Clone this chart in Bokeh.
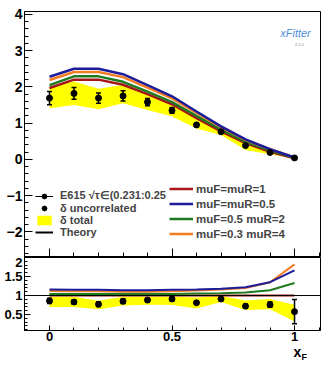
import numpy as np
from bokeh.plotting import figure
from bokeh.models import (Range1d, SingleIntervalTicker, Legend, LegendItem,
                          ColumnDataSource, Span, Label)
from bokeh.layouts import column
from bokeh.embed import file_html
from bokeh.resources import INLINE

# ---------------- data ----------------
xf = [0.0, 0.1, 0.2, 0.3, 0.4, 0.5, 0.6, 0.7, 0.8, 0.9, 1.0]
data = [1.69, 1.82, 1.69, 1.75, 1.58, 1.35, 0.95, 0.76, 0.38, 0.19, 0.04]
err_unc = [0.18, 0.16, 0.14, 0.14, 0.10, 0.08, 0.05, 0.04, 0.03, 0.02, 0.01]
tot_lo = [1.41, 1.50, 1.38, 1.55, 1.36, 1.18, 0.85, 0.67, 0.26, 0.14, 0.02]
tot_hi = [2.00, 2.15, 1.95, 2.05, 1.80, 1.50, 1.12, 0.84, 0.42, 0.20, 0.03]

th_1 = [1.97, 2.20, 2.20, 2.06, 1.80, 1.52, 1.14, 0.77, 0.45, 0.21, 0.03]
th_05 = [2.28, 2.50, 2.50, 2.35, 2.05, 1.74, 1.32, 0.91, 0.55, 0.28, 0.05]
th_05_2 = [2.05, 2.29, 2.29, 2.14, 1.87, 1.58, 1.20, 0.82, 0.49, 0.24, 0.04]
th_03_4 = [2.19, 2.41, 2.41, 2.27, 1.98, 1.68, 1.29, 0.89, 0.54, 0.28, 0.055]

r_data = [0.86, 0.83, 0.77, 0.85, 0.88, 0.91, 0.81, 0.91, 0.72, 0.76, 0.575]
r_err = [0.07, 0.06, 0.06, 0.06, 0.05, 0.05, 0.04, 0.04, 0.05, 0.07, 0.32]
r_lo = [0.70, 0.70, 0.64, 0.74, 0.76, 0.75, 0.66, 0.83, 0.62, 0.64, 0.32]
r_hi = [0.97, 0.97, 0.86, 0.97, 0.97, 0.97, 0.95, 0.99, 0.87, 0.91, 0.76]
r_1 = [1.0, 1.0, 1.0, 1.0, 1.0, 1.0, 1.0, 1.0, 1.0, 1.0, 1.0]
r_05 = [1.16, 1.15, 1.15, 1.14, 1.14, 1.15, 1.16, 1.18, 1.22, 1.35, 1.66]
r_05_2 = [1.04, 1.04, 1.04, 1.04, 1.04, 1.04, 1.05, 1.06, 1.08, 1.14, 1.33]
r_03_4 = [1.12, 1.11, 1.11, 1.10, 1.10, 1.11, 1.13, 1.16, 1.20, 1.35, 1.82]

labels = ["muF=muR=1", "muF=muR=0.5", "muF=0.5 muR=2", "muF=0.3 muR=4"]
colors = ["#a51616", "#1c1c9a", "#1f7a1f", "#f57d21"]
leg_left = ["E615 \u221a\u03c4\u2208(0.231:0.25)", "\u03b4 uncorrelated", "\u03b4 total", "Theory"]

FONT = "Liberation Sans"
YELLOW = "#ffff00"


def style(p):
    p.xgrid.visible = False
    p.ygrid.visible = False
    p.outline_line_color = "black"
    p.outline_line_width = 1
    p.background_fill_color = "white"
    p.border_fill_color = "white"
    for ax in (p.xaxis[0], p.yaxis[0]):
        ax.axis_line_color = "black"
        ax.major_tick_line_color = "black"
        ax.minor_tick_line_color = "black"
        ax.major_tick_out = 0
        ax.minor_tick_out = 0
        ax.major_label_text_font = FONT
        ax.major_label_text_font_style = "bold"
        ax.major_label_text_color = "black"


def errorbars(p, src):
    p.segment(x0="x", y0="lo", x1="x", y1="up", source=src, line_color="black", line_width=1.5)
    p.scatter("x", "up", source=src, marker="dash", size=5, line_color="black", line_width=1.5)
    p.scatter("x", "lo", source=src, marker="dash", size=5, line_color="black", line_width=1.5)
    return p.scatter("x", "y", source=src, size=6, color="black")


# ---------------- top panel ----------------
p1 = figure(frame_width=296, frame_height=245, min_border_left=24, min_border_right=12,
            min_border_top=11, min_border_bottom=1,
            x_range=Range1d(-0.102, 1.106), y_range=Range1d(-2.68, 4.08),
            output_backend="svg", toolbar_location=None)
style(p1)
p1.xaxis.ticker = SingleIntervalTicker(interval=0.5, num_minor_ticks=5)
p1.xaxis.major_label_text_font_size = "0px"
p1.xaxis.major_label_standoff = 0
p1.xaxis.major_tick_in = 8
p1.xaxis.minor_tick_in = 4
p1.yaxis.ticker = SingleIntervalTicker(interval=1, num_minor_ticks=5)
p1.yaxis.major_label_text_font_size = "14px"
p1.yaxis.major_label_standoff = 2
p1.yaxis.major_tick_in = 8
p1.yaxis.minor_tick_in = 4
p1.yaxis.major_label_overrides = {-1: "\u22121", -2: "\u22122"}

band = p1.varea(x=xf, y1=tot_lo, y2=tot_hi, fill_color=YELLOW, fill_alpha=1)
lines = []
for ys, c in zip([th_1, th_05_2, th_03_4, th_05], [colors[0], colors[2], colors[3], colors[1]]):
    lines.append(p1.line(xf, ys, line_color=c, line_width=2.5))
r_red, r_green, r_orange, r_blue = lines

src1 = ColumnDataSource(dict(x=xf, y=data,
                             up=list(np.array(data) + np.array(err_unc)),
                             lo=list(np.array(data) - np.array(err_unc))))
pts = errorbars(p1, src1)

# dummy renderers used only for legend glyphs
d_line = p1.line(x=[np.nan, np.nan], y=[np.nan, np.nan], line_color="black", line_width=1)
d_theory = p1.line(x=[np.nan, np.nan], y=[np.nan, np.nan], line_color="black", line_width=2)

legL = Legend(items=[LegendItem(label=leg_left[0], renderers=[d_line, pts]),
                     LegendItem(label=leg_left[1], renderers=[pts]),
                     LegendItem(label=leg_left[2], renderers=[band]),
                     LegendItem(label=leg_left[3], renderers=[d_theory])],
              location=(9, 16), orientation="vertical",
              label_text_font=FONT, label_text_font_style="bold", label_text_font_size="11px",
              label_height=12, glyph_height=12, glyph_width=18, spacing=0, padding=2,
              margin=0, label_standoff=7, background_fill_alpha=0, border_line_alpha=0)
p1.add_layout(legL, "center")

legR = Legend(items=[LegendItem(label=labels[0], renderers=[r_red]),
                     LegendItem(label=labels[1], renderers=[r_blue]),
                     LegendItem(label=labels[2], renderers=[r_green]),
                     LegendItem(label=labels[3], renderers=[r_orange])],
              location=(142, 13), orientation="vertical",
              label_text_font=FONT, label_text_font_style="bold", label_text_font_size="11.5px",
              label_height=13, glyph_height=13, glyph_width=24, spacing=2, padding=3,
              margin=0, label_standoff=3, background_fill_color="white", background_fill_alpha=1,
              border_line_alpha=0)
p1.add_layout(legR, "center")

p1.add_layout(Label(x=1.004, y=3.5, text="xFitter",
                    text_font=FONT, text_font_style="italic", text_font_size="11px",
                    text_color="#4f8fd3", text_align="center", text_baseline="middle"))
p1.add_layout(Label(x=1.02, y=3.17, text="2.2.0",
                    text_font=FONT, text_font_size="4px", text_color="#888888",
                    text_align="center", text_baseline="middle"))

# ---------------- ratio panel ----------------
p2 = figure(frame_width=296, frame_height=73, min_border_left=24, min_border_right=12,
            min_border_top=0, min_border_bottom=0,
            x_range=p1.x_range, y_range=Range1d(0.08, 2.0),
            output_backend="svg", toolbar_location=None)
style(p2)
p2.xaxis.ticker = SingleIntervalTicker(interval=0.5, num_minor_ticks=5)
p2.xaxis.major_label_text_font_size = "13px"
p2.xaxis.major_label_standoff = 1
p2.xaxis.major_tick_in = 5
p2.xaxis.minor_tick_in = 3
p2.xaxis.major_label_overrides = {0: "0", 0.5: "0.5", 1: "1"}
p2.yaxis.ticker = SingleIntervalTicker(interval=0.5, num_minor_ticks=5)
p2.yaxis.major_label_text_font_size = "13px"
p2.yaxis.major_label_standoff = 2
p2.yaxis.major_tick_in = 6
p2.yaxis.minor_tick_in = 3
p2.yaxis.major_label_overrides = {0.5: "0.5", 1: "1", 1.5: "1.5", 2: "2"}

p2.varea(x=xf, y1=r_lo, y2=r_hi, fill_color=YELLOW, fill_alpha=1)
p2.add_layout(Span(location=1, dimension="width", line_color="black", line_width=1))
for ys, c in zip([r_1, r_05_2, r_03_4, r_05], [colors[0], colors[2], colors[3], colors[1]]):
    p2.line(xf, ys, line_color=c, line_width=2)

src2 = ColumnDataSource(dict(x=xf, y=r_data,
                             up=list(np.array(r_data) + np.array(r_err)),
                             lo=list(np.array(r_data) - np.array(r_err))))
errorbars(p2, src2)

# ---------------- x-axis title strip ----------------
p3 = figure(frame_width=296, frame_height=23, min_border_left=24, min_border_right=12,
            min_border_top=0, min_border_bottom=0,
            x_range=p1.x_range, y_range=Range1d(0, 1),
            output_backend="svg", toolbar_location=None)
p3.axis.visible = False
p3.xgrid.visible = False
p3.ygrid.visible = False
p3.outline_line_color = None
p3.add_layout(Label(x=1.012, y=0.64, text="x",
                    text_font=FONT, text_font_style="bold", text_font_size="14px",
                    text_color="black", text_align="center", text_baseline="middle"))
p3.add_layout(Label(x=1.04, y=0.42, text="F",
                    text_font=FONT, text_font_style="bold", text_font_size="9px",
                    text_color="black", text_align="center", text_baseline="middle"))

layout = column(p1, p2, p3, spacing=0)
open("out.html", "w").write(file_html(layout, INLINE))
